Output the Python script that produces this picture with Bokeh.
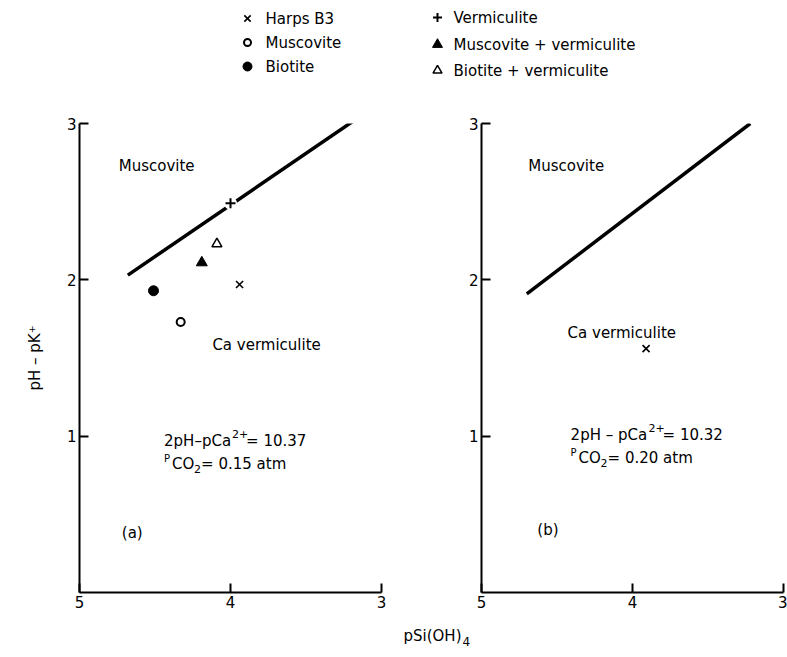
from bokeh.plotting import figure
from bokeh.models import Range1d, FixedTicker
from bokeh.layouts import column, row
from bokeh.embed import file_html
from bokeh.resources import INLINE
from bokeh.core.properties import value

FONT = "DejaVu Sans"

# ---------------- data ----------------
x_ticks = [5, 4, 3]
y_ticks = [1, 2, 3]

# panel (a)
line_a_x = [4.68, 3.18]
line_a_y = [2.03, 3.02]
samples_a = ["Harps B3", "Muscovite", "Biotite", "Vermiculite",
             "Muscovite + vermiculite", "Biotite + vermiculite"]
x_a = [3.94, 4.33, 4.51, 4.00, 4.19, 4.09]
y_a = [1.97, 1.73, 1.93, 2.49, 2.11, 2.23]
eq_a = ["2pH\u2013pCa", "2+", "= 10.37", "CO", "= 0.15 atm"]

# panel (b)
line_b_x = [4.70, 3.22]
line_b_y = [1.91, 3.00]
samples_b = ["Harps B3"]
x_b = [3.91]
y_b = [1.56]
eq_b = ["2pH \u2013 pCa", "2+", "= 10.32", "CO", "= 0.20 atm"]

# marker style per sample
marker_style = {
    "Harps B3": dict(marker="x", size=10, line_width=1.6, fill_color=None),
    "Muscovite": dict(marker="circle", size=8, line_width=2, fill_color="white"),
    "Biotite": dict(marker="circle", size=10, line_width=1, fill_color="black"),
    "Vermiculite": dict(marker="cross", size=10, line_width=2, fill_color=None),
    "Muscovite + vermiculite": dict(marker="triangle", size=11, line_width=1, fill_color="black"),
    "Biotite + vermiculite": dict(marker="triangle", size=10, line_width=1.5, fill_color="white"),
}


def make_panel(left_border, right_border, ylabel):
    p = figure(output_backend="svg", toolbar_location=None,
               frame_width=302, frame_height=469,
               min_border_left=left_border, min_border_right=right_border,
               min_border_top=23, min_border_bottom=22,
               x_range=Range1d(5, 3), y_range=Range1d(0, 3),
               background_fill_color="white", border_fill_color="white")
    p.outline_line_color = None
    p.grid.visible = False
    p.xaxis.ticker = FixedTicker(ticks=x_ticks)
    p.yaxis.ticker = FixedTicker(ticks=y_ticks)
    for ax in (p.xaxis, p.yaxis):
        ax.axis_line_width = 2
        ax.axis_line_color = "black"
        ax.major_tick_line_width = 2
        ax.major_tick_line_color = "black"
        ax.major_tick_in = 9
        ax.major_tick_out = 0
        ax.minor_tick_line_color = None
        ax.major_label_text_font = FONT
        ax.major_label_text_font_size = "15px"
        ax.major_label_text_color = "black"
        ax.major_label_standoff = 3
    if ylabel:
        p.yaxis.axis_label = ylabel
        p.yaxis.axis_label_text_font = FONT
        p.yaxis.axis_label_text_font_style = "normal"
        p.yaxis.axis_label_text_font_size = "15px"
        p.yaxis.axis_label_text_color = "black"
        p.yaxis.axis_label_standoff = 20
    return p


def add_text(p, x, y, t, size="15px", dx=0, dy=0):
    p.text(x=[x], y=[y], text=[t], text_font=value(FONT), text_font_size=size,
           text_color="black", text_align="left", text_baseline="middle",
           x_offset=dx, y_offset=dy)


def add_eq(p, x, y1, y2, parts, w1):
    add_text(p, x, y1, parts[0])
    add_text(p, x, y1, parts[1], size="11px", dx=w1, dy=-7)
    add_text(p, x, y1, parts[2], dx=w1 + 14)
    add_text(p, x, y2, "P", size="10px", dy=-6)
    add_text(p, x, y2, parts[3], dx=8)
    add_text(p, x, y2, "2", size="11px", dx=30, dy=5)
    add_text(p, x, y2, parts[4], dx=37)


def add_points(p, names, xs, ys):
    for n, x, y in zip(names, xs, ys):
        st = marker_style[n]
        if st["marker"] == "cross":
            # small gap in the boundary line around the "+" point
            p.scatter(x=[x], y=[y], marker="circle", size=13,
                      fill_color="white", line_color=None)
        p.scatter(x=[x], y=[y], marker=st["marker"], size=st["size"],
                  line_width=st["line_width"], line_color="black",
                  fill_color=st["fill_color"])


# ---------- panel a ----------
pa = make_panel(79, 49, "pH \u2013 pK\u207a")
pa.line(line_a_x, line_a_y, line_width=3.5, line_color="black")
add_points(pa, samples_a, x_a, y_a)
add_text(pa, 4.74, 2.73, "Muscovite")
add_text(pa, 4.12, 1.58, "Ca vermiculite")
add_eq(pa, 4.44, 0.97, 0.82, eq_a, 68)
add_text(pa, 4.72, 0.38, "(a)")

# ---------- panel b ----------
pb = make_panel(51, 4, None)
pb.line(line_b_x, line_b_y, line_width=3.5, line_color="black")
add_points(pb, samples_b, x_b, y_b)
add_text(pb, 4.69, 2.73, "Muscovite")
add_text(pb, 4.43, 1.66, "Ca vermiculite")
add_eq(pb, 4.41, 1.01, 0.86, eq_b, 78)
add_text(pb, 4.63, 0.40, "(b)")

# ---------- legend strip ----------
leg = figure(output_backend="svg", toolbar_location=None,
             frame_width=787, frame_height=100,
             min_border_left=0, min_border_right=0, min_border_top=0, min_border_bottom=0,
             x_range=Range1d(0, 787), y_range=Range1d(100, 0),
             x_axis_type=None, y_axis_type=None)
leg.outline_line_color = None
leg.grid.visible = False
legend_cols = [
    (247, 265, ["Harps B3", "Muscovite", "Biotite"], [18, 42, 66]),
    (437, 453, ["Vermiculite", "Muscovite + vermiculite", "Biotite + vermiculite"], [17, 44, 70]),
]
for mx, tx, names, ys in legend_cols:
    for n, yy in zip(names, ys):
        st = marker_style[n]
        leg.scatter(x=[mx], y=[yy], marker=st["marker"], size=st["size"] - 1,
                    line_width=st["line_width"], line_color="black",
                    fill_color=st["fill_color"])
        leg.text(x=[tx], y=[yy], text=[n], text_font=value(FONT), text_font_size="15px",
                 text_color="black", text_align="left", text_baseline="middle")

# ---------- x-axis label strip ----------
bot = figure(output_backend="svg", toolbar_location=None,
             frame_width=787, frame_height=43,
             min_border_left=0, min_border_right=0, min_border_top=0, min_border_bottom=0,
             x_range=Range1d(0, 787), y_range=Range1d(43, 0),
             x_axis_type=None, y_axis_type=None)
bot.outline_line_color = None
bot.grid.visible = False
bot.text(x=[403], y=[21], text=["pSi(OH)"], text_font=value(FONT), text_font_size="15px",
         text_color="black", text_align="left", text_baseline="middle")
bot.text(x=[403], y=[21], text=["4"], text_font=value(FONT), text_font_size="12px",
         text_color="black", text_align="left", text_baseline="middle",
         x_offset=59, y_offset=6)

layout = column(leg, row(pa, pb, spacing=0), bot, spacing=0)
open("out.html", "w").write(file_html(layout, INLINE))
